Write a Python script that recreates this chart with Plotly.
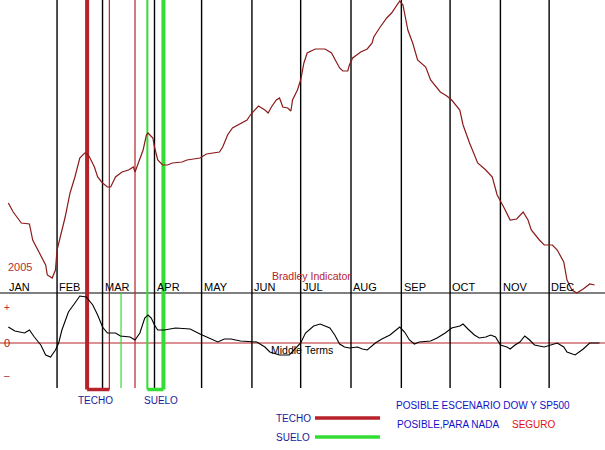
import plotly.graph_objects as go

# ---------------- data ----------------
month_names = ["JAN", "FEB", "MAR", "APR", "MAY", "JUN", "JUL", "AUG", "SEP", "OCT", "NOV", "DEC"]
month_start_days = [0, 31, 59, 91, 120, 151, 181, 212, 243, 273, 304, 334]

# Scenario (price) curve: day of year, relative level
price_days = [1, 4, 9, 14, 16, 21, 24, 25, 28, 30, 31, 36, 39, 42, 45, 48,
              49, 51, 54, 56, 59, 62, 64, 67, 71, 75, 78, 79, 81, 84, 86, 87, 90, 91, 93, 96, 99, 102,
              108, 111, 115, 119, 123, 127, 131, 133, 136, 139, 144, 148, 150, 153, 155, 159, 161, 163,
              166, 168, 170, 173, 175, 176, 179, 181, 183, 185, 190, 196, 200, 203, 205, 207, 210, 211,
              213, 218, 222, 225, 226, 230, 234, 237, 240, 242,
              244, 247, 250, 253, 258, 261, 267, 271, 274, 279, 281, 285, 290, 295, 299, 302, 306, 310,
              314, 318, 321, 323, 328, 331, 336, 339, 343, 345, 348, 351, 355, 359, 362]
price_vals = [97, 88, 77, 76, 60, 45, 35, 25, 22, 30, 50, 83, 107, 123, 142, 147,
              147, 143, 133, 123, 117, 113, 113, 123, 128, 130, 133, 128, 137, 150, 165, 167, 162, 153, 140, 135, 135, 137,
              138, 140, 141, 142, 146, 147, 148, 153, 165, 172, 176, 180, 185, 190, 194, 190, 187, 193,
              200, 202, 193, 192, 189, 200, 210, 220, 237, 247, 251, 251, 247, 238, 232, 229, 229, 235,
              242, 248, 251, 257, 263, 273, 282, 287, 295, 299,
              295, 270, 257, 240, 233, 220, 208, 204, 200, 190, 175, 157, 137, 130, 123, 105, 93, 80,
              81, 88, 80, 70, 60, 55, 55, 50, 38, 20, 10, 7, 11, 16, 15]

# Bradley indicator (middle terms)
brad_days = [1, 5, 11, 14, 17, 21, 24, 27, 30, 32, 34, 38, 42, 45, 49, 53, 56, 59, 62, 67, 70, 76, 79,
             82, 85, 87, 89, 91, 93, 97, 104, 113, 119, 125, 130, 134, 138, 144, 150, 154, 159, 162,
             168, 174, 181, 184, 189, 193, 199, 202, 205, 208, 211, 216, 219, 222, 227, 231, 236, 240,
             242, 245, 248, 251, 254, 261, 265, 270, 274, 279, 281, 284, 288, 291, 295, 298, 301, 304,
             308, 310, 313, 316, 319, 322, 325, 331, 336, 339, 343, 345, 350, 355, 359, 362, 365]
brad_vals = [16, 12, 10, 13, 6, -2, -12, -14, -7, 0, 13, 31, 40, 47, 46, 38, 28, 16, 10, 10, 7, 6, 3,
             10, 25, 28, 25, 18, 13, 13, 15, 14, 9, 5, 1, 4, 4, 2, 1, 1, -4, -9,
             -12, -12, 0, 10, 17, 19, 15, 8, -1, -4, -5, -4, -6, -7, 0, 4, 8, 14,
             16, 11, 3, -1, 1, 2, 5, 10, 15, 17, 19, 14, 8, 5, 6, 8, 6, -2,
             -4, -6, -2, 1, 7, 3, -2, -4, -1, 0, -4, -9, -12, -6, 0, 0, 0]

# Marker lines (days)
techo_left, techo_right = 49.5, 63.2
techo_extra = [79]
suelo_left, suelo_right = 86.6, 96.5
suelo_extra = [70.4]

# ---------------- styling ----------------
RED = "#b8222a"
DARKRED = "#8b1a1a"
GREEN = "#33dd33"
NAVY = "#1a1a9a"
BLUE = "#1010c8"
FONT = "Liberation Sans, Arial, sans-serif"

X_RANGE = [-4.13, 368.4]
Y1_RANGE = [-150, 300]
Y2_RANGE = [-107, 343]

LINE_TOP = 343
LINE_BOTTOM = -45
BOX_BOTTOM = -46.5

fig = go.Figure()

fig.add_trace(go.Scatter(x=price_days, y=price_vals, mode="lines",
                         line=dict(color=DARKRED, width=1.2), yaxis="y", hoverinfo="skip"))
fig.add_trace(go.Scatter(x=brad_days, y=brad_vals, mode="lines",
                         line=dict(color="black", width=1.1), yaxis="y2", hoverinfo="skip"))

shapes = []
# horizontal reference lines
shapes.append(dict(type="line", xref="paper", x0=0, x1=1, yref="y2", y0=50, y1=50,
                   line=dict(color="black", width=1), layer="below"))
shapes.append(dict(type="line", xref="paper", x0=0, x1=1, yref="y2", y0=0, y1=0,
                   line=dict(color=RED, width=1.2), layer="below"))
# month lines
for d in month_start_days[1:]:
    shapes.append(dict(type="line", xref="x", yref="y2", x0=d, x1=d, y0=LINE_BOTTOM, y1=LINE_TOP,
                       line=dict(color="black", width=1.4), layer="below"))
# techo box
shapes.append(dict(type="line", xref="x", yref="y2", x0=techo_left, x1=techo_left, y0=BOX_BOTTOM, y1=LINE_TOP,
                   line=dict(color=RED, width=4), layer="below"))
shapes.append(dict(type="line", xref="x", yref="y2", x0=techo_right, x1=techo_right, y0=BOX_BOTTOM, y1=LINE_TOP,
                   line=dict(color=RED, width=1.2), layer="below"))
shapes.append(dict(type="line", xref="x", yref="y2", x0=techo_left, x1=techo_right, y0=BOX_BOTTOM, y1=BOX_BOTTOM,
                   line=dict(color=RED, width=3.5), layer="below"))
for d in techo_extra:
    shapes.append(dict(type="line", xref="x", yref="y2", x0=d, x1=d, y0=LINE_BOTTOM, y1=LINE_TOP,
                       line=dict(color=RED, width=1.2), layer="below"))
# suelo box
shapes.append(dict(type="line", xref="x", yref="y2", x0=suelo_left, x1=suelo_left, y0=BOX_BOTTOM, y1=LINE_TOP,
                   line=dict(color=GREEN, width=2), layer="below"))
shapes.append(dict(type="line", xref="x", yref="y2", x0=suelo_right, x1=suelo_right, y0=BOX_BOTTOM, y1=LINE_TOP,
                   line=dict(color=GREEN, width=4), layer="below"))
shapes.append(dict(type="line", xref="x", yref="y2", x0=suelo_left, x1=suelo_right, y0=BOX_BOTTOM, y1=BOX_BOTTOM,
                   line=dict(color=GREEN, width=3.5), layer="below"))
for d in suelo_extra:
    shapes.append(dict(type="line", xref="x", yref="y2", x0=d, x1=d, y0=LINE_BOTTOM, y1=50,
                       line=dict(color=GREEN, width=1.2), layer="below"))
# legend lines
shapes.append(dict(type="line", xref="x", yref="y2", x0=189.8, x1=229.9, y0=-75, y1=-75,
                   line=dict(color=RED, width=3.5)))
shapes.append(dict(type="line", xref="x", yref="y2", x0=189.8, x1=229.9, y0=-94, y1=-94,
                   line=dict(color=GREEN, width=3.5)))

ann = []
def txt(x, y, s, color="black", anchor="left", size=10):
    ann.append(dict(x=x, y=y, xref="x", yref="y2", text=s, showarrow=False,
                    xanchor=anchor, yanchor="middle", font=dict(family=FONT, size=size, color=color)))

for name, d in zip(month_names, month_start_days):
    txt(d + 0.2, 56.5, name, size=11)

txt(-0.6, 76, "2005", color="#b03030", size=11)
txt(-3.0, 36, "+", color="#b03030")
txt(-2.6, 0, "0", color="#a02020", size=11)
txt(-3.0, -32, "–", color="#b03030")
txt(187.4, 67, "Bradley Indicator", color=RED, anchor="center", size=10.5)
txt(182, -7, "Middle Terms", anchor="center", size=10.5)
txt(54.4, -57, "TECHO", color=NAVY, anchor="center")
txt(95, -57, "SUELO", color=NAVY, anchor="center")
txt(176.3, -75, "TECHO", color=NAVY, anchor="center")
txt(176.3, -94, "SUELO", color=NAVY, anchor="center")
txt(238.5, -62, "POSIBLE ESCENARIO DOW Y SP500", color=BLUE)
txt(239.1, -81, "POSIBLE,PARA NADA", color=BLUE)
txt(309.9, -81, "SEGURO", color="#e01010")

fig.update_layout(
    width=605, height=450,
    margin=dict(l=0, r=0, t=0, b=0),
    paper_bgcolor="white", plot_bgcolor="white",
    showlegend=False,
    shapes=shapes, annotations=ann,
    xaxis=dict(range=X_RANGE, visible=False, fixedrange=True),
    yaxis=dict(range=Y1_RANGE, visible=False, fixedrange=True),
    yaxis2=dict(range=Y2_RANGE, visible=False, overlaying="y", fixedrange=True),
)

fig.write_html("out.html", config={"displayModeBar": False},
               post_script="document.body.style.margin='0';document.body.style.overflow='hidden';")
